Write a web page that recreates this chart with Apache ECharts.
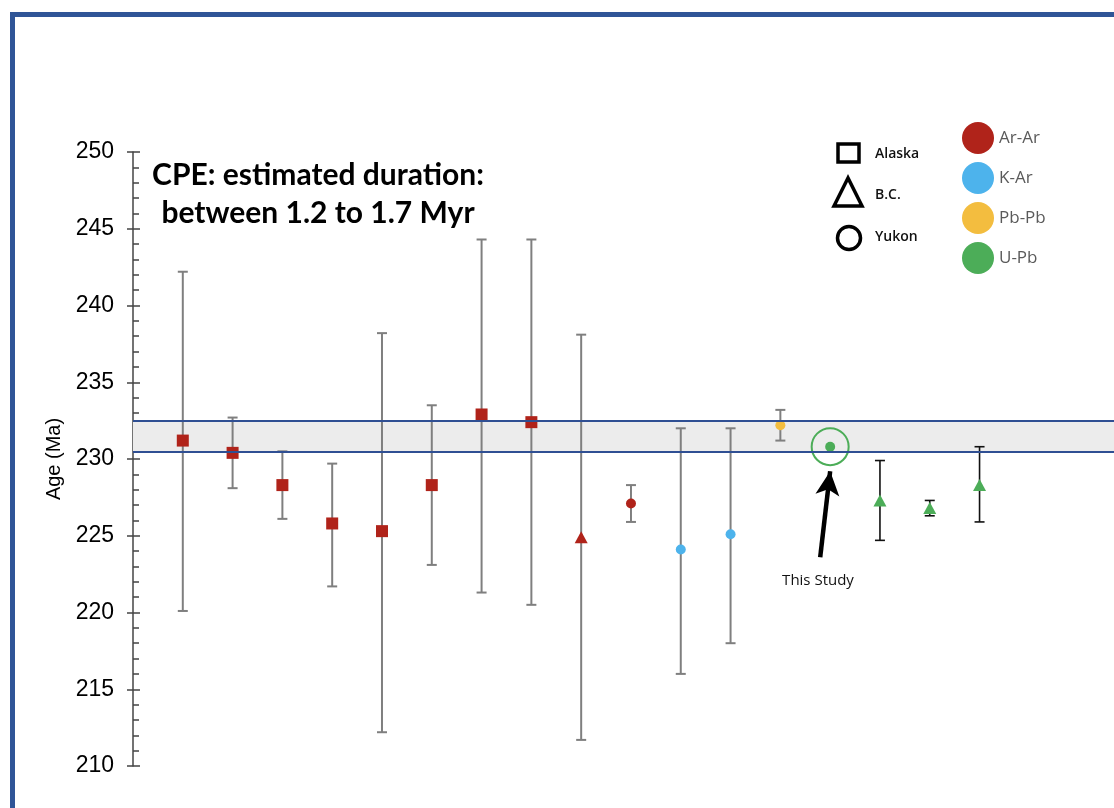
<!DOCTYPE html>
<html><head><meta charset="utf-8">
<script src="https://cdn.jsdelivr.net/npm/echarts@6/dist/echarts.min.js"></script>
<style>html,body{margin:0;padding:0;background:#fff}#c{width:1114px;height:808px}</style>
</head><body><div id="c"></div>
<script>
// ---- data ----
const positions = [1,2,3,4,5,6,7,8,9,10,11,12,13,14,15,16,17];
const ages      = [231.2,230.4,228.3,225.8,225.3,228.3,232.9,232.4,224.9,227.1,224.1,225.1,232.2,230.8,227.3,226.8,228.3];
const upper     = [242.2,232.7,230.5,229.7,238.2,233.5,244.3,244.3,238.1,228.3,232.0,232.0,233.2,null,229.9,227.3,230.8];
const lower     = [220.1,228.1,226.1,221.7,212.2,223.1,221.3,220.5,211.7,225.9,216.0,218.0,231.2,null,224.7,226.3,225.9];
const regions   = ['Alaska','Alaska','Alaska','Alaska','Alaska','Alaska','Alaska','Alaska','B.C.','Yukon','Yukon','Yukon','Yukon','Yukon','B.C.','B.C.','B.C.'];
const methods   = ['Ar-Ar','Ar-Ar','Ar-Ar','Ar-Ar','Ar-Ar','Ar-Ar','Ar-Ar','Ar-Ar','Ar-Ar','Ar-Ar','K-Ar','K-Ar','Pb-Pb','U-Pb','U-Pb','U-Pb','U-Pb'];
const thisStudyIndex = 13;
const bandRange = [230.5, 232.5];
const arrowFrom = [13.8, 223.6];
const arrowTo   = [14.0, 229.2];
const yTicks = [210,215,220,225,230,235,240,245,250];
const regionNames = ['Alaska','B.C.','Yukon'];
const methodNames = ['Ar-Ar','K-Ar','Pb-Pb','U-Pb'];

// ---- styles ----
const methodColor = {'Ar-Ar':'#B0231A','K-Ar':'#4DB3EC','Pb-Pb':'#F3BD3F','U-Pb':'#4CAD58'};
const regionSymbol = {'Alaska':'rect','B.C.':'triangle','Yukon':'circle'};
const regionSize = {'Alaska':[12,12],'B.C.':[13,12],'Yukon':[10,10]};

const chart = echarts.init(document.getElementById('c'));

const errGray = [], errBlack = [];
positions.forEach((x,i)=>{
  if(upper[i]==null) return;
  const item=[x, lower[i], upper[i]];
  if(methods[i]==='U-Pb') errBlack.push(item); else errGray.push(item);
});

function errRender(color,w){
  return function(params, api){
    const x=api.value(0), lo=api.value(1), hi=api.value(2);
    const pLo=api.coord([x,lo]), pHi=api.coord([x,hi]);
    const cap=5;
    const st={stroke:color,lineWidth:w};
    return {type:'group',children:[
      {type:'line',shape:{x1:pLo[0],y1:pLo[1],x2:pHi[0],y2:pHi[1]},style:st},
      {type:'line',shape:{x1:pLo[0]-cap,y1:pLo[1],x2:pLo[0]+cap,y2:pLo[1]},style:st},
      {type:'line',shape:{x1:pHi[0]-cap,y1:pHi[1],x2:pHi[0]+cap,y2:pHi[1]},style:st}
    ]};
  };
}

const pts = positions.map((x,i)=>({
  value:[x,ages[i]],
  symbol:regionSymbol[regions[i]],
  symbolSize:regionSize[regions[i]],
  itemStyle:{color:methodColor[methods[i]],opacity:1}
}));

const legendG = [];
legendG.push({type:'rect',shape:{x:838,y:144,width:21,height:18},style:{fill:'none',stroke:'#000',lineWidth:3.5}});
legendG.push({type:'polygon',shape:{points:[[848,178],[834,206],[862,206]]},style:{fill:'none',stroke:'#000',lineWidth:3.5}});
legendG.push({type:'circle',shape:{cx:849,cy:238,r:11.5},style:{fill:'none',stroke:'#000',lineWidth:3.5}});
regionNames.forEach((n,i)=>{
  legendG.push({type:'text',x:875,y:[154,195,237][i],style:{text:n,font:'600 14px "Open Sans"',fill:'#111',verticalAlign:'middle'}});
});
methodNames.forEach((n,i)=>{
  const cy=138+i*40;
  legendG.push({type:'circle',shape:{cx:978,cy:cy,r:16},style:{fill:methodColor[n]}});
  legendG.push({type:'text',x:999,y:cy,style:{text:n,font:'17px "Open Sans"',fill:'#5a5a5a',verticalAlign:'middle'}});
});

chart.setOption({
  animation:false,
  backgroundColor:'#fff',
  grid:{left:133,top:152,right:0,bottom:42,containLabel:false},
  xAxis:{type:'value',min:0,max:19.7,show:false},
  yAxis:[{
    type:'value',min:210,max:250,interval:5,position:'left',
    name:'Age (Ma)',nameLocation:'middle',nameGap:66,nameRotate:90,
    nameTextStyle:{fontFamily:'Liberation Sans',fontSize:20,color:'#000'},
    axisLine:{show:true,lineStyle:{color:'#444',width:1.5}},
    axisTick:{show:true,inside:true,length:7,lineStyle:{color:'#444',width:1.5}},
    minorTick:{show:true,splitNumber:5,length:6,lineStyle:{color:'#444',width:1.5}},
    axisLabel:{margin:19,fontFamily:'Liberation Sans',fontSize:23,color:'#000'},
    splitLine:{show:false}
  },{
    type:'value',min:210,max:250,interval:5,position:'left',
    axisLine:{show:false},
    axisTick:{show:true,inside:false,length:6,lineStyle:{color:'#444',width:1.5}},
    axisLabel:{show:false},splitLine:{show:false}
  }],
  series:[
    {type:'line',data:[],z:0,
      markArea:{silent:true,itemStyle:{color:'#ececec',borderWidth:0},data:[[{yAxis:bandRange[0]},{yAxis:bandRange[1]}]]},
      markLine:{silent:true,symbol:'none',label:{show:false},lineStyle:{color:'#2F4F93',width:2,type:'solid'},
        data:[{yAxis:bandRange[0]},{yAxis:bandRange[1]}]}
    },
    {type:'custom',data:errGray,renderItem:errRender('#7f7f7f',2),z:2},
    {type:'custom',data:errBlack,renderItem:errRender('#111',1.6),z:2},
    {type:'scatter',data:pts,z:3},
    {type:'scatter',z:3,data:[{value:[positions[thisStudyIndex],ages[thisStudyIndex]],symbol:'circle',symbolSize:37,
      itemStyle:{color:'rgba(0,0,0,0)',borderColor:methodColor['U-Pb'],borderWidth:2,opacity:1}}],
      markLine:{silent:true,symbol:['none','arrow'],symbolSize:[18,24],label:{show:false},
        lineStyle:{color:'#000',width:4.5,type:'solid'},
        data:[[{coord:arrowFrom},{coord:arrowTo}]]}
    }
  ],
  graphic:[
    {type:'rect',shape:{x:10,y:12,width:1104,height:5},style:{fill:'#2F5597'},z:100},
    {type:'rect',shape:{x:10,y:12,width:5,height:796},style:{fill:'#2F5597'},z:100},
    {type:'text',x:318,y:175,style:{text:'CPE: estimated duration:',font:'bold 30px Lato',fill:'#000',align:'center',verticalAlign:'middle'}},
    {type:'text',x:318,y:213,style:{text:'between 1.2 to 1.7 Myr',font:'bold 30px Lato',fill:'#000',align:'center',verticalAlign:'middle'}},
    {type:'text',x:818,y:581,style:{text:'This Study',font:'15px "Open Sans"',fill:'#111',align:'center',verticalAlign:'middle'}},
    ...legendG
  ]
});
</script></body></html>
